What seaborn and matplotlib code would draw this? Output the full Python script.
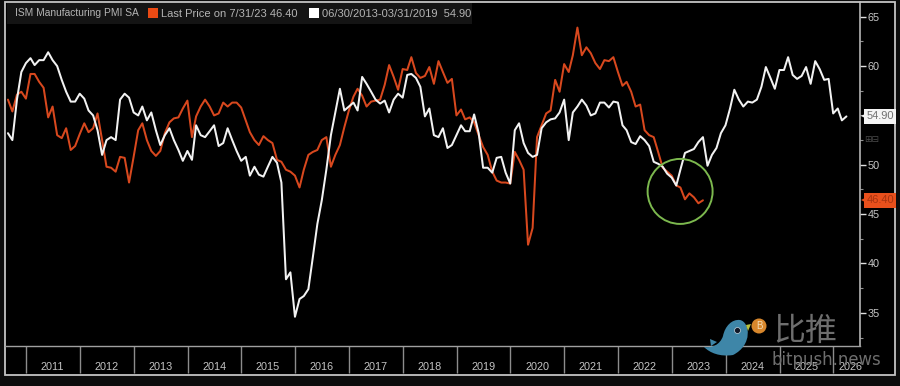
import numpy as np
import pandas as pd
import seaborn as sns
import matplotlib.pyplot as plt
from matplotlib.patches import Patch, Rectangle, Circle, PathPatch, Polygon
from matplotlib.path import Path
from matplotlib.transforms import Affine2D, blended_transform_factory

# =====================
# data (monthly, month end)
# =====================
pmi_actual = [56.6, 55.4, 57.1, 57.4, 56.7, 59.2, 59.2, 58.4, 57.8, 54.8, 55.9, 53.0,
              52.7, 53.7, 51.5, 51.9, 53.1, 54.2, 53.3, 53.7, 55.2, 52.5, 49.8, 49.7,
              49.3, 50.8, 50.7, 48.2, 50.8, 53.5, 54.2, 52.5, 51.4, 50.9, 51.4, 53.2,
              54.3, 54.7, 54.8, 55.7, 56.5, 52.8, 54.9, 55.9, 56.6, 55.9, 55.0, 55.2,
              56.3, 55.9, 56.3, 56.3, 55.8, 54.5, 53.3, 52.5, 52.0, 52.9, 52.5, 52.2,
              50.5, 50.3, 49.5, 49.3, 48.9, 47.7, 49.5, 51.0, 51.3, 51.5, 52.5, 52.8,
              49.8, 51.0, 52.0, 53.8, 55.5, 56.9, 57.7, 57.0, 55.9, 56.4, 56.5, 56.6,
              58.1, 60.1, 58.9, 57.6, 59.7, 59.6, 60.9, 59.3, 58.8, 59.0, 59.9, 58.2,
              60.5, 59.4, 58.3, 58.7, 55.0, 55.6, 54.6, 54.8, 54.3, 53.0, 51.8, 51.0,
              49.3, 48.4, 48.2, 48.2, 48.1, 51.3, 50.5, 49.5, 41.9, 43.6, 52.8, 54.0,
              55.2, 55.5, 58.6, 57.4, 60.2, 59.4, 61.1, 63.9, 61.1, 61.9, 61.3, 60.3,
              59.7, 60.6, 60.5, 60.9, 59.4, 58.0, 58.4, 57.4, 55.9, 56.1, 53.5, 53.0,
              52.8, 51.3, 49.7, 49.3, 48.9, 47.9, 47.7, 46.5, 47.1, 46.7, 46.1, 46.4]

pmi_analog = [53.2, 52.5, 56.6, 59.4, 60.3, 60.8, 60.1, 60.6, 60.6, 61.4, 60.6, 60.0,
              58.6, 57.4, 56.4, 56.4, 57.2, 56.7, 55.5, 55.0, 53.5, 51.0, 52.5, 52.8,
              52.5, 56.6, 57.2, 56.8, 55.3, 55.0, 55.9, 54.5, 55.3, 53.5, 52.0, 53.0,
              53.7, 52.5, 51.5, 50.4, 51.4, 50.5, 54.0, 53.0, 52.8, 53.4, 54.0, 51.9,
              52.2, 53.7, 52.5, 51.4, 50.4, 50.8, 48.9, 49.8, 49.0, 48.8, 49.8, 50.8,
              50.2, 48.2, 38.4, 39.1, 34.6, 36.4, 36.7, 37.4, 40.6, 44.0, 46.4, 49.5,
              53.0, 55.3, 57.7, 55.5, 55.9, 56.3, 55.5, 58.9, 58.2, 57.4, 56.6, 56.2,
              56.5, 55.3, 56.6, 57.2, 56.8, 59.1, 59.2, 58.8, 57.9, 54.9, 55.7, 53.0,
              52.8, 53.7, 51.7, 52.0, 53.0, 54.0, 53.4, 53.4, 55.1, 53.2, 49.7, 49.7,
              49.2, 50.7, 50.8, 49.2, 48.1, 53.5, 54.2, 52.2, 51.2, 50.8, 51.0, 53.7,
              54.3, 54.6, 54.7, 55.3, 56.6, 52.5, 55.3, 55.9, 56.6, 56.0, 55.0, 55.2,
              56.3, 56.3, 55.8, 56.4, 56.3, 54.0, 53.5, 52.3, 52.1, 52.9, 52.5, 51.9,
              50.3, 50.1, 49.8, 49.1, 48.7, 47.9, 49.5, 51.2, 51.4, 51.6, 52.3, 52.8,
              49.9, 51.0, 51.7, 53.2, 54.0, 55.7, 57.6, 56.6, 55.9, 56.4, 56.3, 56.6,
              57.9, 59.9, 58.8, 57.7, 59.6, 59.6, 60.9, 59.1, 58.7, 59.0, 59.9, 58.2,
              60.5, 59.7, 58.6, 58.7, 55.2, 55.7, 54.5, 54.9]

name_actual = 'Last Price on 7/31/23 46.40'
name_analog = '06/30/2013-03/31/2019  54.90'
name_index = 'ISM Manufacturing PMI SA'
years = list(range(2011, 2027))
y_major = [35, 40, 45, 50, 60, 65]  # the 55 label sits under the white flag
y_minor = [32.5, 37.5, 42.5, 47.5, 52.5, 55, 57.5, 62.5]
circle_date = ['2023-02-26']
circle_value = [47.3]

col_actual = '#d8481e'
col_analog = '#f2f2f2'

dates_actual = pd.date_range('2010-08-31', periods=len(pmi_actual), freq='ME')
dates_analog = pd.date_range('2010-08-31', periods=len(pmi_analog), freq='ME')
df = pd.concat([
    pd.DataFrame({'date': dates_actual, 'pmi': pmi_actual, 'series': name_actual}),
    pd.DataFrame({'date': dates_analog, 'pmi': pmi_analog, 'series': name_analog}),
])

# =====================
# figure
# =====================
W, H = 900, 386
sns.set_theme(style='dark')
plt.rcParams['font.family'] = ['Liberation Sans', 'DejaVu Sans']
fig = plt.figure(figsize=(W / 100, H / 100), dpi=100, facecolor='#0c0c0c')
px = Affine2D().scale(1, -1).translate(0, H)  # figure pixels, from top left

# outer frame and header strip, behind the axes
fig.add_artist(Rectangle((5, 2), 890, 373, transform=px, facecolor='black',
                         edgecolor='#c4c4c4', lw=1.3, zorder=-2))
fig.add_artist(Rectangle((7, 3), 465, 21, transform=px, facecolor='#141414',
                         edgecolor='none', zorder=-1))

ax = fig.add_axes([5 / W, 1 - 346 / H, 855 / W, 344 / H], facecolor='none')
sns.lineplot(data=df, x='date', y='pmi', hue='series', hue_order=[name_actual, name_analog],
             palette=[col_actual, col_analog], lw=1.45, legend=False, ax=ax)

ax.set_xlim(pd.Timestamp('2010-08-11'), pd.Timestamp('2026-07-01'))
ax.set_ylim(31.64, 66.49)
ax.set_xlabel('')
ax.set_ylabel('')

# axes look
ax.yaxis.tick_right()
ax.set_yticks(y_major)
ax.set_yticks(y_minor, minor=True)
ax.tick_params(axis='y', which='major', length=4, width=1, color='#e0e0e0',
               labelcolor='#c8c8c8', labelsize=7.8, pad=1.5, right=True)
ax.tick_params(axis='y', which='minor', length=2, width=0.8, color='#909090', right=True)
# year boundaries carry the tick, the label sits in the middle of the year
label_dates = [pd.Timestamp(f'{y}-07-01') for y in years[:-1]] + [pd.Timestamp('2026-04-25')]
ax.set_xticks([pd.Timestamp(f'{y}-01-01') for y in years], labels=[''] * len(years))
ax.set_xticks(label_dates, labels=[str(y) for y in years], minor=True)
ax.tick_params(axis='x', which='major', length=19.5, width=1, color='#8c8c8c', bottom=True)
ax.tick_params(axis='x', which='minor', length=0, labelcolor='#c4c4c4', labelsize=7.8, pad=11.5)
for side in ['top', 'left']:
    ax.spines[side].set_visible(False)
ax.spines['right'].set_color('#c4c4c4')
ax.spines['right'].set_linewidth(1.1)
ax.spines['bottom'].set_color('#a0a0a0')
ax.spines['bottom'].set_linewidth(1.0)
ax.grid(False)

# header
fig.text(15 / W, 1 - 13.5 / H, name_index, color='#b4b4b4', fontsize=7.4, ha='left', va='center')
ax.legend(handles=[Patch(facecolor='#ea4a14', edgecolor='none'), Patch(facecolor='white', edgecolor='none')],
          labels=[name_actual, name_analog],
          ncol=2, loc='center left', bbox_to_anchor=(148 / W, 1 - 13.5 / H), bbox_transform=fig.transFigure,
          borderaxespad=0, borderpad=0, frameon=False,
          fontsize=8, labelcolor='#b4b4b4', handlelength=0.9, handleheight=0.9,
          handletextpad=0.27, columnspacing=1.0)

# green circle round the latest readings
ax.scatter(pd.to_datetime(circle_date), circle_value, s=2190, facecolors='none',
           edgecolors='#7cb84e', linewidths=1.4, zorder=4)

# last value flags
flag_tf = blended_transform_factory(ax.transAxes, ax.transData)
flags = [(pmi_analog[-1], '54.90', '#f4f4f4', '#707070'), (pmi_actual[-1], '46.40', '#e8501c', '#a83410')]
for value, label, face, ink in flags:
    ax.text(1.0075, value, label, transform=flag_tf, ha='left', va='center', fontsize=8,
            color=ink, clip_on=False,
            bbox=dict(boxstyle='square,pad=0.2', facecolor=face, edgecolor='none'))
    ax.plot([1.0045], [value], marker='<', ms=5, mew=0, color=face, transform=flag_tf, clip_on=False)
ax.text(1.0045, 52.6, '⊞⊟', transform=flag_tf, ha='left', va='center', fontsize=6.5,
        color='#4a4a4a', clip_on=False, family='DejaVu Sans')

# watermark
codes = [Path.MOVETO, Path.CURVE4, Path.CURVE4, Path.CURVE4, Path.CURVE4, Path.CURVE4, Path.CURVE4,
         Path.CURVE4, Path.CURVE4, Path.CURVE4, Path.CURVE4, Path.CURVE4, Path.CURVE4, Path.CLOSEPOLY]
verts = [(704, 347), (712, 348), (720, 345), (723, 336),
         (725, 326), (732, 319), (740, 320),
         (750, 322), (753, 345), (733, 355),
         (720, 357), (710, 353), (704, 347), (704, 347)]
fig.add_artist(PathPatch(Path(verts, codes), transform=px, facecolor='#3e86a8', edgecolor='none', zorder=6))
fig.add_artist(Polygon([(710, 339), (717, 342), (711, 346)], transform=px, facecolor='#3e86a8',
                       edgecolor='none', zorder=6))
fig.add_artist(Polygon([(746, 325), (751, 324), (748, 331)], transform=px, facecolor='#b9c23c',
                       edgecolor='none', zorder=6))
fig.add_artist(Circle((737.5, 330.5), 3, transform=px, facecolor='#101828', edgecolor='#c8d8e0', lw=0.5, zorder=7))
fig.add_artist(Circle((759, 326), 7.5, transform=px, facecolor='#d8872c', edgecolor='none', zorder=6))
fig.text(759 / W, 1 - 326 / H, 'B', color='#f4dcb4', fontsize=7, ha='center', va='center', zorder=7)
fig.text(805 / W, 1 - 331 / H, '比推', color='#6e6e6e', fontsize=23, ha='center', va='center',
         family=['Noto Sans CJK SC', 'DejaVu Sans'], zorder=7)
fig.text(826.5 / W, 1 - 360 / H, 'bitpush.news', color='#6e6e6e', fontsize=11.9, ha='center', va='center',
         family='DejaVu Sans', zorder=7)

fig.savefig('out.png', dpi=100, facecolor=fig.get_facecolor())
